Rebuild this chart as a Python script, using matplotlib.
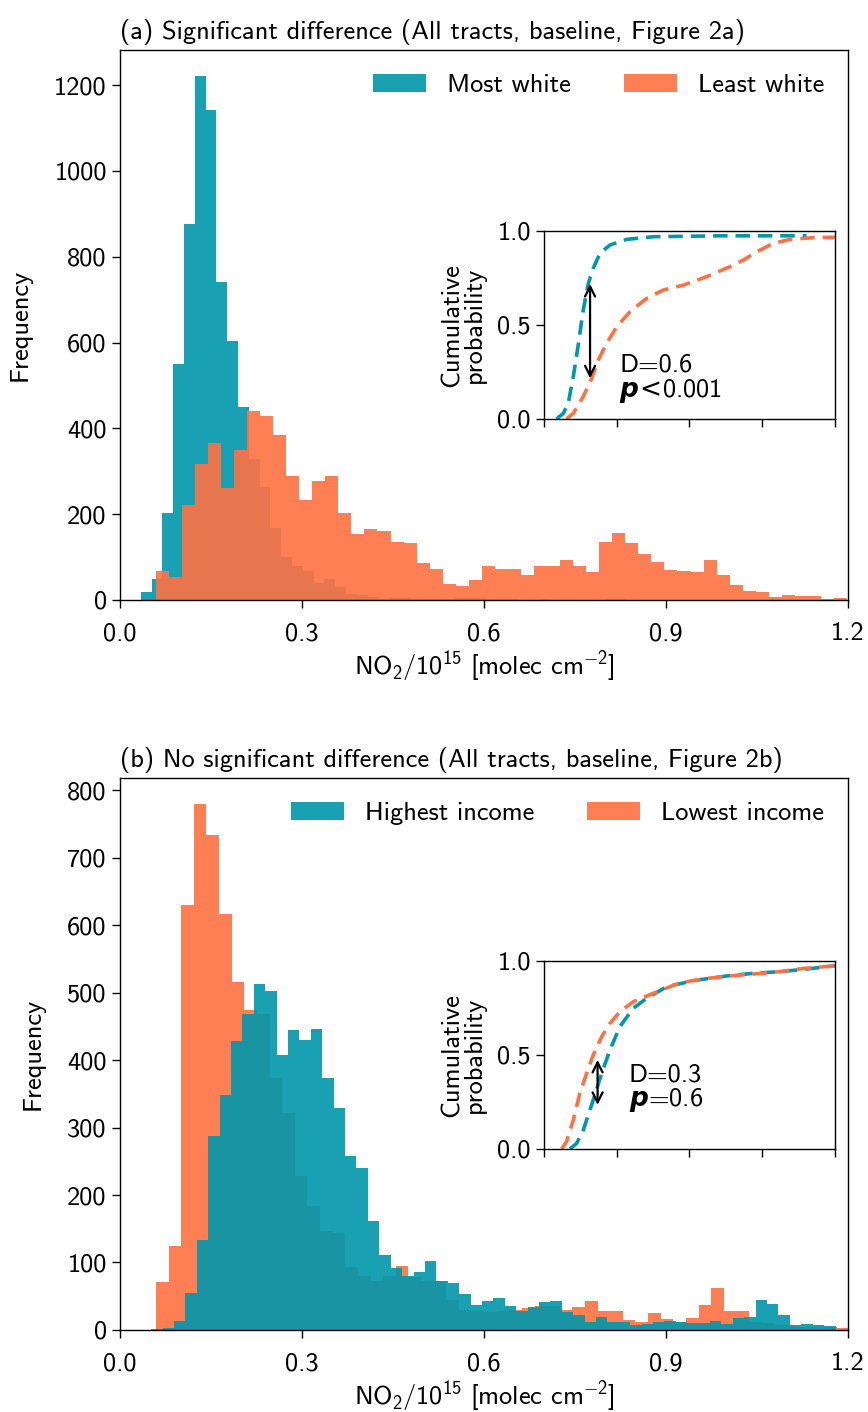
import numpy as np
import matplotlib
matplotlib.use('Agg')
import matplotlib.pyplot as plt

plt.rcParams['font.family'] = ['cmss10', 'DejaVu Sans']
plt.rcParams['font.size'] = 19
plt.rcParams['axes.unicode_minus'] = False
plt.rcParams['mathtext.fontset'] = 'custom'
plt.rcParams['mathtext.rm'] = 'cmss10'
plt.rcParams['mathtext.it'] = 'DejaVu Sans:italic:bold'
plt.rcParams['mathtext.bf'] = 'cmss10'
plt.rcParams['mathtext.sf'] = 'DejaVu Sans'
plt.rcParams['axes.linewidth'] = 1.0

teal = '#0097ab'
orange = '#ff7142'

# (a) histogram counts
a_teal_start, a_teal_width = 0.0345, 0.0178
a_teal_counts = [18, 50, 203, 551, 876, 1221, 1143, 741, 603, 449, 329, 263, 167, 100, 79,
                 67, 39, 49, 30, 15, 11, 8, 3, 5, 4, 3, 2, 2, 3, 4, 5, 4, 3, 2, 2, 1, 1,
                 2, 1, 1, 1, 0, 1, 2, 2, 1, 0, 1, 0, 1]
a_orange_start, a_orange_width = 0.059, 0.0215
a_orange_counts = [67, 53, 222, 318, 367, 261, 350, 441, 429, 385, 289, 233, 277, 289, 203,
                   154, 165, 160, 136, 132, 87, 73, 38, 33, 47, 80, 73, 73, 59, 80, 80, 92,
                   80, 66, 134, 155, 132, 106, 89, 71, 68, 66, 94, 59, 36, 22, 19, 8, 12,
                   10, 10, 3, 5]

# (b) histogram counts
b_teal_start, b_teal_width = 0.0515, 0.0188
b_teal_counts = [2, 3, 13, 55, 134, 287, 348, 428, 468, 512, 502, 408, 444, 430, 446, 373,
                 329, 258, 240, 162, 111, 92, 80, 86, 102, 73, 70, 53, 37, 43, 47, 36, 28,
                 34, 42, 43, 27, 22, 12, 19, 12, 12, 7, 9, 12, 13, 12, 10, 11, 13, 9, 18,
                 19, 45, 39, 22, 7, 9, 7, 6]
b_orange_start, b_orange_width = 0.0594, 0.0208
b_orange_counts = [71, 125, 630, 779, 733, 616, 516, 474, 468, 373, 322, 228, 183, 147, 144,
                   93, 80, 73, 80, 95, 78, 73, 73, 45, 30, 28, 27, 28, 30, 33, 35, 35, 30,
                   34, 43, 28, 28, 15, 12, 25, 16, 12, 18, 37, 62, 28, 28, 12, 10, 8, 6, 5,
                   5, 4, 3]

# cumulative curves (insets)
a_teal_cdf_x = [0.052, 0.080, 0.100, 0.121, 0.142, 0.162, 0.183, 0.203, 0.231, 0.272, 0.341,
                0.451, 0.726, 1.083]
a_teal_cdf_y = [0.0, 0.03, 0.083, 0.225, 0.40, 0.58, 0.72, 0.80, 0.88, 0.924, 0.954, 0.968,
                0.973, 0.973]
a_orange_cdf_x = [0.093, 0.121, 0.162, 0.197, 0.224, 0.258, 0.300, 0.355, 0.423, 0.492,
                  0.575, 0.671, 0.767, 0.822, 0.877, 0.946, 1.015, 1.111, 1.2]
a_orange_cdf_y = [0.0, 0.03, 0.119, 0.216, 0.313, 0.40, 0.49, 0.57, 0.64, 0.685, 0.711,
                  0.756, 0.809, 0.844, 0.888, 0.933, 0.954, 0.963, 0.965]
b_teal_cdf_x = [0.107, 0.135, 0.162, 0.203, 0.238, 0.272, 0.313, 0.368, 0.423, 0.506, 0.616,
                0.753, 0.863, 0.973, 1.070, 1.2]
b_teal_cdf_y = [0.0, 0.03, 0.10, 0.26, 0.402, 0.526, 0.65, 0.747, 0.80, 0.862, 0.894, 0.919,
                0.933, 0.942, 0.954, 0.973]
b_orange_cdf_x = [0.073, 0.093, 0.121, 0.148, 0.176, 0.203, 0.238, 0.272, 0.313, 0.368,
                  0.451, 0.561, 0.671, 0.808, 0.946, 1.070, 1.2]
b_orange_cdf_y = [0.0, 0.039, 0.154, 0.296, 0.402, 0.499, 0.596, 0.667, 0.729, 0.782, 0.827,
                  0.883, 0.906, 0.924, 0.938, 0.959, 0.973]

xticks = [0.0, 0.3, 0.6, 0.9, 1.2]
xlabel = r'NO$_2$/10$^{15}$ [molec cm$^{-2}$]'


def edges(start, width, n):
    return start + width * np.arange(n)


def draw_hist(ax, first, second):
    for (start, width, counts, color, label) in (first, second):
        ax.bar(edges(start, width, len(counts)), counts, width=width, align='edge',
               color=color, alpha=0.9, linewidth=0, label=label)
    ax.set_xlim(0, 1.2)
    ax.set_xticks(xticks)
    ax.set_xticklabels(['0.0', '0.3', '0.6', '0.9', '1.2'])
    ax.set_xlabel(xlabel, labelpad=2)
    ax.set_ylabel('Frequency', labelpad=16)
    ax.tick_params(length=6, width=1.0)
    ax.tick_params(axis='x', pad=10)


def draw_inset(fig, rect, curves, arrow_x, arrow_y, text_xy, text):
    ins = fig.add_axes(rect)
    for x, y, color in curves:
        ins.plot(x, y, color=color, lw=2.6, dashes=(4, 2.2))
    ins.set_xlim(0, 1.2)
    ins.set_ylim(0, 1)
    ins.set_xticks(xticks)
    ins.set_xticklabels([])
    ins.set_yticks([0, 0.5, 1.0])
    ins.set_yticklabels(['0.0', '0.5', '1.0'])
    ins.tick_params(length=6, width=1.0)
    ins.set_ylabel('Cumulative\nprobability', fontsize=19, linespacing=0.95, labelpad=8)
    ins.annotate('', xy=(arrow_x, arrow_y[0]), xytext=(arrow_x, arrow_y[1]),
                 arrowprops=dict(arrowstyle='<->', color='k', lw=1.6, mutation_scale=18,
                                 shrinkA=0, shrinkB=0))
    ins.text(text_xy[0], text_xy[1], text, ha='left', va='center', linespacing=1.0)


fig = plt.figure(figsize=(8.68, 14.12), dpi=100)

ax1 = fig.add_axes([0.1382, 0.5751, 0.8387, 0.3895])
draw_hist(ax1,
          (a_teal_start, a_teal_width, a_teal_counts, teal, 'Most white'),
          (a_orange_start, a_orange_width, a_orange_counts, orange, 'Least white'))
ax1.legend(loc='upper right', ncol=2, frameon=False)
ax1.set_title('(a) Significant difference (All tracts, baseline, Figure 2a)', loc='left',
              pad=8, fontsize=19)
draw_inset(fig, [0.6267, 0.7033, 0.3353, 0.1333],
           [(a_teal_cdf_x, a_teal_cdf_y, teal), (a_orange_cdf_x, a_orange_cdf_y, orange)],
           0.19, (0.216, 0.717), (0.31, 0.21), r'D=0.6' + '\n' + r'$p\!\mathsf{<}\!$0.001')

ax2 = fig.add_axes([0.1382, 0.0581, 0.8387, 0.3909])
draw_hist(ax2,
          (b_orange_start, b_orange_width, b_orange_counts, orange, 'Lowest income'),
          (b_teal_start, b_teal_width, b_teal_counts, teal, 'Highest income'))
handles, labels = ax2.get_legend_handles_labels()
ax2.legend(handles[::-1], labels[::-1], loc='upper right', ncol=2, frameon=False)
ax2.set_title('(b) No significant difference (All tracts, baseline, Figure 2b)', loc='left',
              pad=8, fontsize=19)
draw_inset(fig, [0.6267, 0.1863, 0.3353, 0.1333],
           [(b_teal_cdf_x, b_teal_cdf_y, teal), (b_orange_cdf_x, b_orange_cdf_y, orange)],
           0.221, (0.234, 0.473), (0.35, 0.32), 'D=0.3\n$p$=0.6')

fig.savefig('out.png', dpi=100)
